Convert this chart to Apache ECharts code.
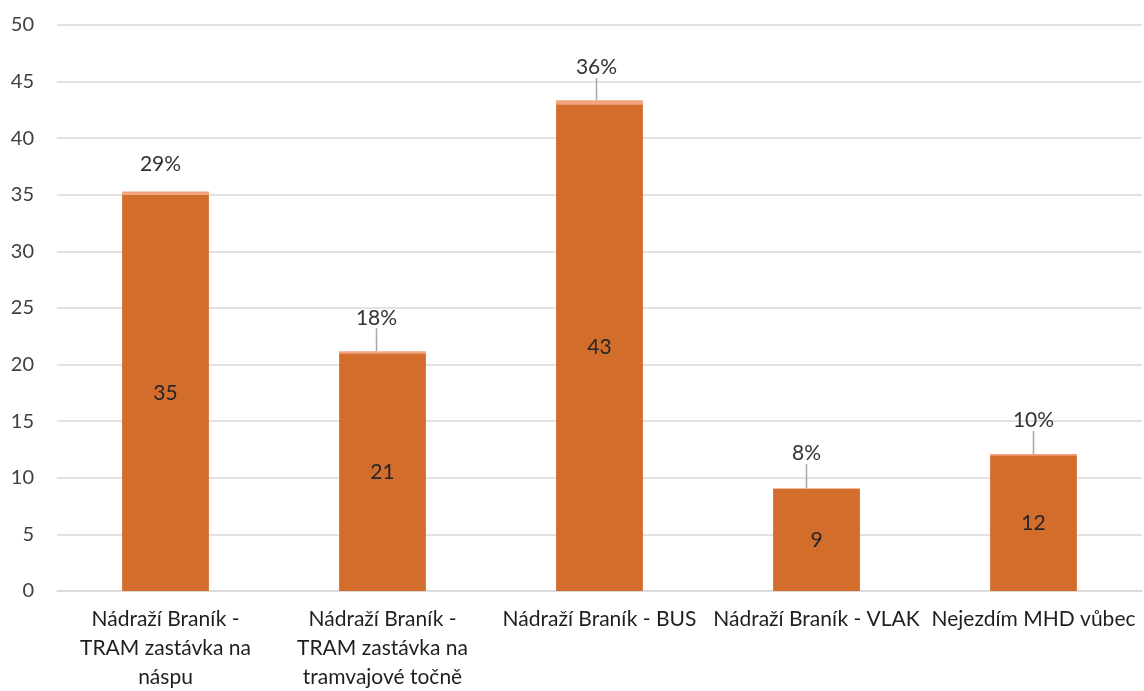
<!doctype html>
<head>
  <meta charset="utf-8">
  <script src="https://cdn.jsdelivr.net/npm/echarts@6/dist/echarts.min.js"></script>
  <style type="text/css">
    html, body { margin: 0; padding: 0; background: #ffffff; }
    #chart { width: 1144px; height: 691px; }
  </style>
  <title>Nádraží Braník</title>
</head>
<body>
  <div id="chart"></div>
  <script type="text/javascript">
    // data
    var categories = [
      'Nádraží Braník - TRAM zastávka na náspu',
      'Nádraží Braník - TRAM zastávka na tramvajové točně',
      'Nádraží Braník - BUS',
      'Nádraží Braník - VLAK',
      'Nejezdím MHD vůbec'
    ];
    var tickLabels = [
      'Nádraží Braník -\nTRAM zastávka na\nnáspu',
      'Nádraží Braník -\nTRAM zastávka na\ntramvajové točně',
      'Nádraží Braník - BUS',
      'Nádraží Braník - VLAK',
      'Nejezdím MHD vůbec'
    ];
    var counts = [35, 21, 43, 9, 12];
    var shares = [0.29, 0.18, 0.36, 0.08, 0.10];
    var yTicks = [0, 5, 10, 15, 20, 25, 30, 35, 40, 45, 50];

    // where the percent labels sit, relative to the bar top
    var labelOffsets = [[-5, -12], [-6, -18], [-3, -17], [-10, -19], [0, -18]];

    var font = 'Lato, "Noto Sans", sans-serif';
    var myChart = echarts.init(document.getElementById('chart'));

    var shareItems = shares.map(function (v, i) {
      return { value: v, labelLine: { show: i !== 0 } };
    });

    var option = {
      animation: false,
      grid: { left: 57, right: 2, top: 25, bottom: 100, containLabel: false, outerBoundsMode: 'none' },
      xAxis: {
        type: 'category',
        data: categories,
        axisTick: { show: false },
        axisLine: { lineStyle: { color: '#d9d9d9', width: 1.5 } },
        axisLabel: {
          interval: 0,
          margin: 14,
          color: '#1f1f1f',
          fontFamily: font,
          fontSize: 21,
          lineHeight: 29,
          formatter: function (v, i) { return tickLabels[i]; }
        }
      },
      yAxis: {
        type: 'value',
        min: yTicks[0],
        max: yTicks[yTicks.length - 1],
        interval: 5,
        axisLine: { show: false },
        axisTick: { show: false },
        splitLine: { lineStyle: { color: '#d9d9d9', width: 1.5 } },
        axisLabel: { margin: 23, color: '#404040', fontFamily: font, fontSize: 20 }
      },
      series: [
        {
          name: 'Počet',
          type: 'bar',
          stack: 'a',
          barWidth: '40%',
          data: counts,
          itemStyle: { color: '#d36d2b' },
          label: {
            show: true,
            position: 'inside',
            color: '#262626',
            fontFamily: font,
            fontSize: 21
          }
        },
        {
          name: 'Podíl',
          type: 'bar',
          stack: 'a',
          barWidth: '40%',
          data: shareItems,
          itemStyle: { color: '#f2a37e' },
          label: {
            show: true,
            position: 'top',
            distance: 5,
            color: '#333333',
            fontFamily: font,
            fontSize: 21,
            formatter: function (p) { return Math.round(p.value * 100) + '%'; }
          },
          labelLine: { show: true, lineStyle: { color: '#a6a6a6', width: 1.5 } },
          labelLayout: function (p) {
            var o = labelOffsets[p.dataIndex];
            return { dx: o[0], dy: o[1] };
          }
        }
      ]
    };

    myChart.setOption(option);
  </script>
</body>
